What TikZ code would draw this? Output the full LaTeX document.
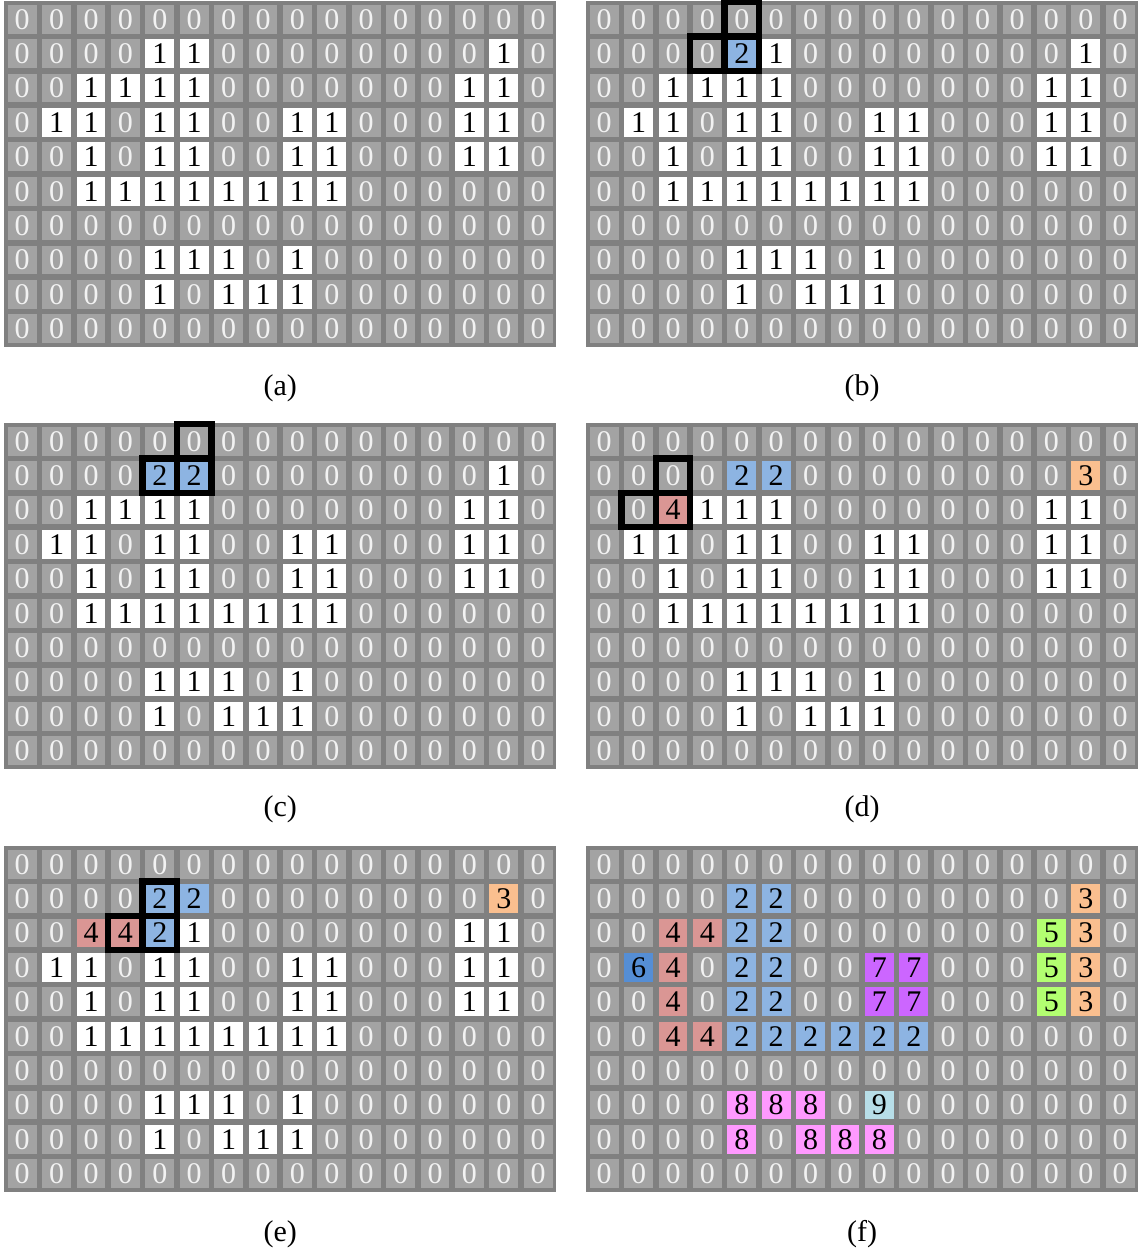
\documentclass[tikz,border=0pt]{standalone}
\usepackage{fontspec}
\setmainfont{Liberation Serif}
\usepackage{tikz}
\usetikzlibrary{positioning}

\definecolor{gridbg}{RGB}{128,128,128}
\definecolor{zerofill}{RGB}{163,163,163}
\definecolor{zerotext}{RGB}{242,242,242}
\definecolor{lbltwo}{RGB}{141,180,226}
\definecolor{lblthree}{RGB}{250,191,143}
\definecolor{lblfour}{RGB}{218,150,148}
\definecolor{lblfive}{RGB}{179,255,113}
\definecolor{lblsix}{RGB}{85,142,213}
\definecolor{lblseven}{RGB}{204,102,255}
\definecolor{lbleight}{RGB}{255,153,255}
\definecolor{lblnine}{RGB}{183,222,232}

% name, left, top, rows
\newcommand{\drawgrid}[4]{%
  \fill[gridbg] (#2-1,#3-1) rectangle (#2+551.4,#3+345);
  \foreach \row [count=\r from 0] in {#4}{
    \foreach \v [count=\c from 0] in \row{
      \node[cell, val\v] (#1-\r-\c) at (#2+17.2+34.4*\c, #3+17.2+34.4*\r) {\v};
    }
  }
}

\begin{document}
\begin{tikzpicture}[
    x=1pt, y=-1pt,
    cell/.style={minimum size=28.7pt, inner sep=0pt, font=\fontsize{30}{36}\selectfont},
    val0/.style={fill=zerofill, text=zerotext},
    val1/.style={fill=white},
    val2/.style={fill=lbltwo},
    val3/.style={fill=lblthree},
    val4/.style={fill=lblfour},
    val5/.style={fill=lblfive},
    val6/.style={fill=lblsix},
    val7/.style={fill=lblseven},
    val8/.style={fill=lbleight},
    val9/.style={fill=lblnine},
    hl/.style={draw=black, line width=6.5pt, minimum size=34.4pt, inner sep=0pt},
    subcap/.style={font=\fontsize{30}{36}\selectfont}
]
\useasboundingbox (0,0) rectangle (1142,1254);

\drawgrid{a}{5}{2}{
  {0,0,0,0,0,0,0,0,0,0,0,0,0,0,0,0},
  {0,0,0,0,1,1,0,0,0,0,0,0,0,0,1,0},
  {0,0,1,1,1,1,0,0,0,0,0,0,0,1,1,0},
  {0,1,1,0,1,1,0,0,1,1,0,0,0,1,1,0},
  {0,0,1,0,1,1,0,0,1,1,0,0,0,1,1,0},
  {0,0,1,1,1,1,1,1,1,1,0,0,0,0,0,0},
  {0,0,0,0,0,0,0,0,0,0,0,0,0,0,0,0},
  {0,0,0,0,1,1,1,0,1,0,0,0,0,0,0,0},
  {0,0,0,0,1,0,1,1,1,0,0,0,0,0,0,0},
  {0,0,0,0,0,0,0,0,0,0,0,0,0,0,0,0}}
\node[subcap] (a-cap) at (280.2,388) {(a)};

\drawgrid{b}{587}{2}{
  {0,0,0,0,0,0,0,0,0,0,0,0,0,0,0,0},
  {0,0,0,0,2,1,0,0,0,0,0,0,0,0,1,0},
  {0,0,1,1,1,1,0,0,0,0,0,0,0,1,1,0},
  {0,1,1,0,1,1,0,0,1,1,0,0,0,1,1,0},
  {0,0,1,0,1,1,0,0,1,1,0,0,0,1,1,0},
  {0,0,1,1,1,1,1,1,1,1,0,0,0,0,0,0},
  {0,0,0,0,0,0,0,0,0,0,0,0,0,0,0,0},
  {0,0,0,0,1,1,1,0,1,0,0,0,0,0,0,0},
  {0,0,0,0,1,0,1,1,1,0,0,0,0,0,0,0},
  {0,0,0,0,0,0,0,0,0,0,0,0,0,0,0,0}}
\node[hl] (b-h1) at (b-0-4) {};
\node[hl] (b-h2) at (b-1-3) {};
\node[hl] (b-h3) at (b-1-4) {};
\node[subcap] (b-cap) at (862.2,388) {(b)};

\drawgrid{c}{5}{424}{
  {0,0,0,0,0,0,0,0,0,0,0,0,0,0,0,0},
  {0,0,0,0,2,2,0,0,0,0,0,0,0,0,1,0},
  {0,0,1,1,1,1,0,0,0,0,0,0,0,1,1,0},
  {0,1,1,0,1,1,0,0,1,1,0,0,0,1,1,0},
  {0,0,1,0,1,1,0,0,1,1,0,0,0,1,1,0},
  {0,0,1,1,1,1,1,1,1,1,0,0,0,0,0,0},
  {0,0,0,0,0,0,0,0,0,0,0,0,0,0,0,0},
  {0,0,0,0,1,1,1,0,1,0,0,0,0,0,0,0},
  {0,0,0,0,1,0,1,1,1,0,0,0,0,0,0,0},
  {0,0,0,0,0,0,0,0,0,0,0,0,0,0,0,0}}
\node[hl] (c-h1) at (c-0-5) {};
\node[hl] (c-h2) at (c-1-4) {};
\node[hl] (c-h3) at (c-1-5) {};
\node[subcap] (c-cap) at (280.2,809) {(c)};

\drawgrid{d}{587}{424}{
  {0,0,0,0,0,0,0,0,0,0,0,0,0,0,0,0},
  {0,0,0,0,2,2,0,0,0,0,0,0,0,0,3,0},
  {0,0,4,1,1,1,0,0,0,0,0,0,0,1,1,0},
  {0,1,1,0,1,1,0,0,1,1,0,0,0,1,1,0},
  {0,0,1,0,1,1,0,0,1,1,0,0,0,1,1,0},
  {0,0,1,1,1,1,1,1,1,1,0,0,0,0,0,0},
  {0,0,0,0,0,0,0,0,0,0,0,0,0,0,0,0},
  {0,0,0,0,1,1,1,0,1,0,0,0,0,0,0,0},
  {0,0,0,0,1,0,1,1,1,0,0,0,0,0,0,0},
  {0,0,0,0,0,0,0,0,0,0,0,0,0,0,0,0}}
\node[hl] (d-h1) at (d-1-2) {};
\node[hl] (d-h2) at (d-2-1) {};
\node[hl] (d-h3) at (d-2-2) {};
\node[subcap] (d-cap) at (862.2,809) {(d)};

\drawgrid{e}{5}{847}{
  {0,0,0,0,0,0,0,0,0,0,0,0,0,0,0,0},
  {0,0,0,0,2,2,0,0,0,0,0,0,0,0,3,0},
  {0,0,4,4,2,1,0,0,0,0,0,0,0,1,1,0},
  {0,1,1,0,1,1,0,0,1,1,0,0,0,1,1,0},
  {0,0,1,0,1,1,0,0,1,1,0,0,0,1,1,0},
  {0,0,1,1,1,1,1,1,1,1,0,0,0,0,0,0},
  {0,0,0,0,0,0,0,0,0,0,0,0,0,0,0,0},
  {0,0,0,0,1,1,1,0,1,0,0,0,0,0,0,0},
  {0,0,0,0,1,0,1,1,1,0,0,0,0,0,0,0},
  {0,0,0,0,0,0,0,0,0,0,0,0,0,0,0,0}}
\node[hl] (e-h1) at (e-1-4) {};
\node[hl] (e-h2) at (e-2-3) {};
\node[hl] (e-h3) at (e-2-4) {};
\node[subcap] (e-cap) at (280.2,1234) {(e)};

\drawgrid{f}{587}{847}{
  {0,0,0,0,0,0,0,0,0,0,0,0,0,0,0,0},
  {0,0,0,0,2,2,0,0,0,0,0,0,0,0,3,0},
  {0,0,4,4,2,2,0,0,0,0,0,0,0,5,3,0},
  {0,6,4,0,2,2,0,0,7,7,0,0,0,5,3,0},
  {0,0,4,0,2,2,0,0,7,7,0,0,0,5,3,0},
  {0,0,4,4,2,2,2,2,2,2,0,0,0,0,0,0},
  {0,0,0,0,0,0,0,0,0,0,0,0,0,0,0,0},
  {0,0,0,0,8,8,8,0,9,0,0,0,0,0,0,0},
  {0,0,0,0,8,0,8,8,8,0,0,0,0,0,0,0},
  {0,0,0,0,0,0,0,0,0,0,0,0,0,0,0,0}}
\node[subcap] (f-cap) at (862.2,1234) {(f)};
\end{tikzpicture}
\end{document}
